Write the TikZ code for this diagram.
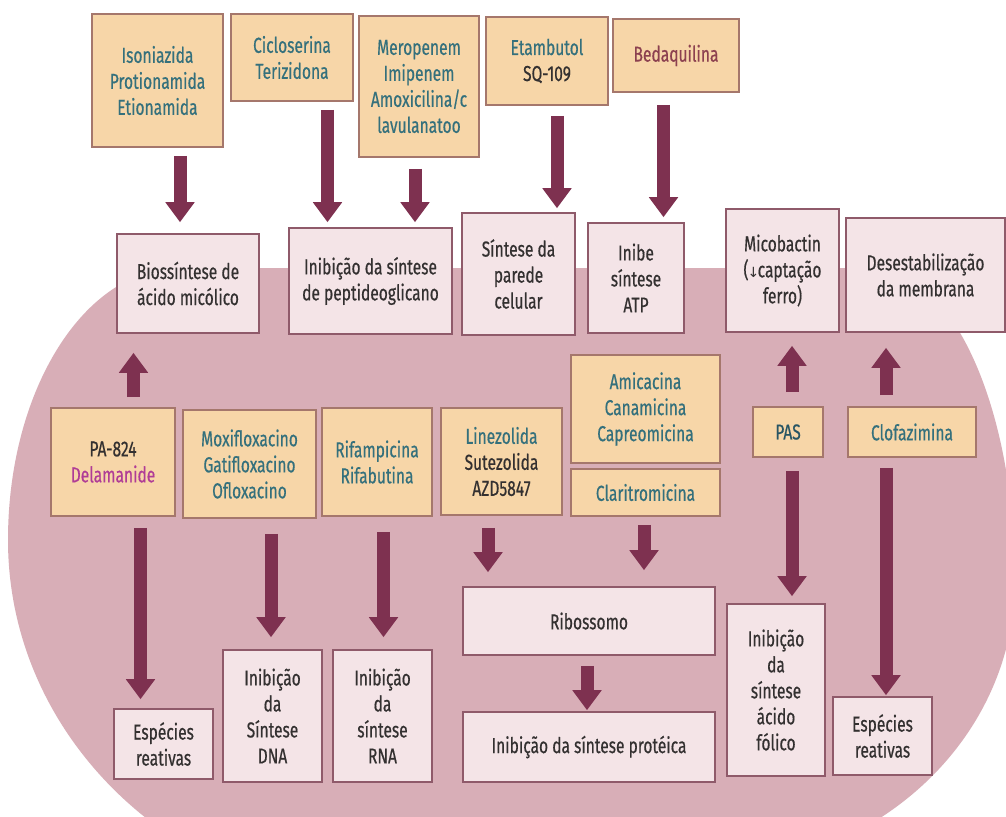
\documentclass[tikz,border=0pt]{standalone}
\usepackage{fontspec}
\setmainfont{Fira Sans}[FakeStretch=0.72,FakeBold=0.5]
\newfontfamily\symfont{DejaVu Sans}
\usetikzlibrary{arrows.meta}
\definecolor{cellbg}{HTML}{D8AEB7}
\definecolor{drugfill}{HTML}{F7D6A8}
\definecolor{drugline}{HTML}{A5776C}
\definecolor{efffill}{HTML}{F4E4E7}
\definecolor{effline}{HTML}{8F5A6A}
\definecolor{arrowc}{HTML}{7E3150}
\definecolor{tealtxt}{HTML}{34707C}
\definecolor{darktxt}{HTML}{333030}
\definecolor{pastxt}{HTML}{285564}
\definecolor{bedatxt}{HTML}{8C4150}
\definecolor{delatxt}{HTML}{B03C96}
\begin{document}
\begin{tikzpicture}[x=0.5pt,y=-0.5pt,
  base/.style={rectangle,inner sep=0pt,align=center,line width=0.8pt,
    font=\fontsize{10.8pt}{13pt}\selectfont},
  drug/.style={base,fill=drugfill,draw=drugline,text=tealtxt},
  effect/.style={base,fill=efffill,draw=effline,text=darktxt},
  bigarr/.style={draw=arrowc,line width=6.5pt,-{Triangle[width=14pt,length=10pt]}}]
\useasboundingbox (0,0) rectangle (1006,816);
\fill[white] (0,0) rectangle (1006,816);
\begin{scope}
\clip (0,0) rectangle (1006,816);
\fill[cellbg] (874,268) -- (179,268)
  .. controls (84.6,268) and (8,389.8) .. (8,540)
  .. controls (8,741.6) and (183.5,905) .. (400,905)
  -- (700,870)
  .. controls (874,870) and (1015,740.2) .. (1015,580)
  .. controls (1015,407.7) and (951.9,268) .. (874,268) -- cycle;
\end{scope}
% top drug boxes
\node[drug,minimum width=65.5pt,minimum height=66.5pt] (iso) at (157.5,80.5) {Isoniazida\\Protionamida\\Etionamida};
\node[drug,minimum width=61pt,minimum height=43.5pt] (ciclo) at (292,57.5) {Cicloserina\\Terizidona};
\node[drug,minimum width=60pt,minimum height=70.5pt] (mero) at (419,86.5) {Meropenem\\Imipenem\\Amoxicilina/c\\lavulanatoo};
\node[drug,minimum width=61pt,minimum height=44pt] (etamb) at (547,61) {Etambutol\\\textcolor{darktxt}{SQ-109}};
\node[drug,text=bedatxt,minimum width=63pt,minimum height=36.5pt] (beda) at (676,55.5) {Bedaquilina};
% top effect boxes
\node[effect,minimum width=71pt,minimum height=49.5pt] (bio) at (188,283.5) {Biossíntese de\\ácido micólico};
\node[effect,minimum width=81.5pt,minimum height=53pt] (pept) at (370.5,281) {Inibição da síntese\\de peptideoglicano};
\node[effect,minimum width=56.5pt,minimum height=61pt] (parede) at (518.5,274) {Síntese da\\parede\\celular};
\node[effect,minimum width=48pt,minimum height=55pt] (atp) at (636,278) {Inibe\\síntese\\ATP};
\node[effect,minimum width=56.5pt,minimum height=61.5pt] (mico) at (782.5,270.5) {Micobactin\\(\kern-0.5pt{\symfont\fontsize{7pt}{13pt}\selectfont ↓}\kern-0.8pt captação\\ferro)};
\node[effect,minimum width=79.5pt,minimum height=57pt] (desest) at (925.5,275) {Desestabilização\\da membrana};
% middle drug boxes
\node[drug,minimum width=62pt,minimum height=54pt] (pa) at (113,462) {\textcolor{darktxt}{PA-824}\\\textcolor{delatxt}{Delamanide}};
\node[drug,minimum width=66.5pt,minimum height=54pt] (mox) at (249.5,464) {Moxifloxacino\\Gatifloxacino\\Ofloxacino};
\node[drug,minimum width=55pt,minimum height=54pt] (rif) at (377,462) {Rifampicina\\Rifabutina};
\node[drug,minimum width=60.5pt,minimum height=53.5pt] (line) at (501.5,461.5) {Linezolida\\\textcolor{darktxt}{Sutezolida}\\\textcolor{darktxt}{AZD5847}};
\node[drug,minimum width=74.5pt,minimum height=54pt] (amic) at (645.5,409) {Amicacina\\Canamicina\\Capreomicina};
\node[drug,minimum width=74.5pt,minimum height=23.5pt] (clari) at (645.5,492.5) {Claritromicina};
\node[drug,text=pastxt,minimum width=35pt,minimum height=25pt] (pas) at (788,432) {PAS};
\node[drug,minimum width=64pt,minimum height=25pt] (clofa) at (912,432) {Clofazimina};
% bottom effect boxes
\node[effect,minimum width=49.5pt,minimum height=35pt] (esp1) at (163.5,744) {Espécies\\reativas};
\node[effect,minimum width=49.5pt,minimum height=66pt] (dna) at (272.5,716) {Inibição\\da\\Síntese\\DNA};
\node[effect,minimum width=49.5pt,minimum height=66pt] (rna) at (382.5,716) {Inibição\\da\\síntese\\RNA};
\node[effect,minimum width=126pt,minimum height=34pt] (ribo) at (589,621) {Ribossomo};
\node[effect,minimum width=126pt,minimum height=35pt] (prot) at (589,747) {Inibição da síntese protéica};
\node[effect,minimum width=49pt,minimum height=86pt] (fol) at (776,690) {Inibição\\da\\síntese\\ácido\\fólico};
\node[effect,minimum width=49.5pt,minimum height=39pt] (esp2) at (882.5,736) {Espécies\\reativas};
% arrow columns
\coordinate (c1) at (180,0);
\coordinate (c2) at (327.5,0);
\coordinate (c3) at (415,0);
\coordinate (c4) at (557,0);
\coordinate (c5) at (663.5,0);
\coordinate (c6) at (133.5,0);
\coordinate (c7) at (140.5,0);
\coordinate (c8) at (271,0);
\coordinate (c9) at (383.5,0);
\coordinate (c10) at (488,0);
\coordinate (c11) at (644,0);
\coordinate (c12) at (587,0);
\coordinate (c13) at (792,0);
\coordinate (c14) at (886,0);
% arrows
\draw[bigarr,shorten <=4pt,shorten >=5.5pt] (iso.south -| c1) -- (bio.north -| c1);
\draw[bigarr,shorten <=4pt,shorten >=2.5pt] (ciclo.south -| c2) -- (pept.north -| c2);
\draw[bigarr,shorten <=5.5pt,shorten >=2.5pt] (mero.south -| c3) -- (pept.north -| c3);
\draw[bigarr,shorten <=5pt,shorten >=2pt] (etamb.south -| c4) -- (parede.north -| c4);
\draw[bigarr,shorten <=6pt,shorten >=2.5pt] (beda.south -| c5) -- (atp.north -| c5);
\draw[bigarr,shorten <=5pt,shorten >=9.5pt] (pa.north -| c6) -- (bio.south -| c6);
\draw[bigarr,shorten <=5.5pt,shorten >=4.5pt] (pa.south -| c7) -- (esp1.north -| c7);
\draw[bigarr,shorten <=7.5pt,shorten >=6pt] (mox.south -| c8) -- (dna.north -| c8);
\draw[bigarr,shorten <=7.5pt,shorten >=6pt] (rif.south -| c9) -- (rna.north -| c9);
\draw[bigarr,shorten <=6pt,shorten >=7pt] (line.south -| c10) -- (ribo.north -| c10);
\draw[bigarr,shorten <=4pt,shorten >=8pt] (clari.south -| c11) -- (ribo.north -| c11);
\draw[bigarr,shorten <=5pt,shorten >=0.5pt] (ribo.south -| c12) -- (prot.north -| c12);
\draw[bigarr,shorten <=7pt,shorten >=6.5pt] (pas.north -| c13) -- (mico.south -| c13);
\draw[bigarr,shorten <=6.5pt,shorten >=3.5pt] (pas.south -| c13) -- (fol.north -| c13);
\draw[bigarr,shorten <=5.5pt,shorten >=7.5pt] (clofa.north -| c14) -- (desest.south -| c14);
\draw[bigarr,shorten <=5pt,shorten >=0.5pt] (clofa.south -| c14) -- (esp2.north -| c14);
\end{tikzpicture}
\end{document}
